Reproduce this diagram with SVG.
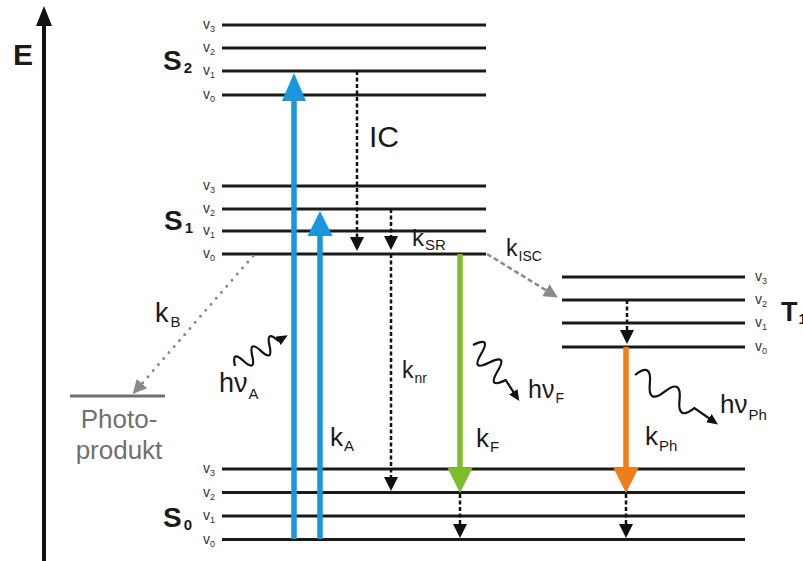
<svg xmlns="http://www.w3.org/2000/svg" width="803" height="561" viewBox="0 0 803 561">
<style>
.t{font-family:"Liberation Sans",Arial,sans-serif;fill:#1a1a1a}
.b{font-weight:bold}
.v{font-size:14px;fill:#333}
.lvl{stroke:#1a1a1a;stroke-width:3}
.dash{stroke:#111;stroke-width:2.5;stroke-dasharray:4 2.5;fill:none}
.gd{stroke:#8a8a8a;stroke-width:2.5;stroke-dasharray:5 3;fill:none}
.gdot{stroke:#8a8a8a;stroke-width:3;stroke-dasharray:0 8;stroke-linecap:round;fill:none}
.wave{stroke:#111;stroke-width:2.2;fill:none}
.blue{stroke:#1a96dc;stroke-width:5.5}
.green{stroke:#7cbd2a;stroke-width:5.5}
.orange{stroke:#f07d16;stroke-width:5.5}
.gray{fill:#707070}
</style>
<defs>
<marker id="hb" viewBox="0 0 14 14" refX="6" refY="7" markerWidth="14" markerHeight="14" markerUnits="userSpaceOnUse" orient="auto"><path d="M0,0 L14,7 L0,14 z" fill="#111"/></marker>
<marker id="hg" viewBox="0 0 14 14" refX="6" refY="7" markerWidth="14" markerHeight="14" markerUnits="userSpaceOnUse" orient="auto"><path d="M0,0 L14,7 L0,14 z" fill="#8a8a8a"/></marker>
<marker id="hw" viewBox="0 0 11 10" refX="5" refY="5" markerWidth="11" markerHeight="10" markerUnits="userSpaceOnUse" orient="auto"><path d="M0,0 L11,5 L0,10 z" fill="#111"/></marker>
</defs>
<rect width="803" height="561" fill="#fff"/>

<g id="axis">
<line x1="44" y1="561" x2="44" y2="22" stroke="#111" stroke-width="4"/>
<polygon points="36,26 52,26 44,6" fill="#111"/>
<text x="13" y="65" class="t b" font-size="30">E</text>
</g>

<g id="S2">
<line class="lvl" x1="222" y1="25" x2="486" y2="25"/>
<line class="lvl" x1="222" y1="48" x2="486" y2="48"/>
<line class="lvl" x1="222" y1="71" x2="486" y2="71"/>
<line class="lvl" x1="222" y1="95" x2="486" y2="95"/>
<text x="203" y="29" class="t v">v<tspan font-size="9" dy="3">3</tspan></text>
<text x="203" y="52" class="t v">v<tspan font-size="9" dy="3">2</tspan></text>
<text x="203" y="75" class="t v">v<tspan font-size="9" dy="3">1</tspan></text>
<text x="203" y="99" class="t v">v<tspan font-size="9" dy="3">0</tspan></text>
<text x="163" y="70" class="t b" font-size="28">S<tspan font-size="15" dx="2" dy="3">2</tspan></text>
</g>

<g id="S1">
<line class="lvl" x1="222" y1="186" x2="486" y2="186"/>
<line class="lvl" x1="222" y1="209" x2="486" y2="209"/>
<line class="lvl" x1="222" y1="231" x2="486" y2="231"/>
<line class="lvl" x1="222" y1="254" x2="486" y2="254"/>
<text x="203" y="190" class="t v">v<tspan font-size="9" dy="3">3</tspan></text>
<text x="203" y="213" class="t v">v<tspan font-size="9" dy="3">2</tspan></text>
<text x="203" y="235" class="t v">v<tspan font-size="9" dy="3">1</tspan></text>
<text x="203" y="258" class="t v">v<tspan font-size="9" dy="3">0</tspan></text>
<text x="164" y="230" class="t b" font-size="28">S<tspan font-size="15" dx="2" dy="3">1</tspan></text>
</g>

<g id="T1">
<line class="lvl" x1="562" y1="277" x2="745" y2="277"/>
<line class="lvl" x1="562" y1="300" x2="745" y2="300"/>
<line class="lvl" x1="562" y1="323" x2="745" y2="323"/>
<line class="lvl" x1="562" y1="347" x2="745" y2="347"/>
<text x="755" y="281" class="t v">v<tspan font-size="9" dy="3">3</tspan></text>
<text x="755" y="304" class="t v">v<tspan font-size="9" dy="3">2</tspan></text>
<text x="755" y="327" class="t v">v<tspan font-size="9" dy="3">1</tspan></text>
<text x="755" y="351" class="t v">v<tspan font-size="9" dy="3">0</tspan></text>
<text x="781" y="321" class="t b" font-size="27">T<tspan font-size="15" dx="1" dy="3">1</tspan></text>
</g>

<g id="S0">
<line class="lvl" x1="222" y1="469" x2="745" y2="469"/>
<line class="lvl" x1="222" y1="492.5" x2="745" y2="492.5"/>
<line class="lvl" x1="222" y1="516" x2="745" y2="516"/>
<line class="lvl" x1="222" y1="539.5" x2="745" y2="539.5"/>
<text x="203" y="473" class="t v">v<tspan font-size="9" dy="3">3</tspan></text>
<text x="203" y="497" class="t v">v<tspan font-size="9" dy="3">2</tspan></text>
<text x="203" y="520" class="t v">v<tspan font-size="9" dy="3">1</tspan></text>
<text x="203" y="544" class="t v">v<tspan font-size="9" dy="3">0</tspan></text>
<text x="163" y="527" class="t b" font-size="28">S<tspan font-size="15" dx="2" dy="3">0</tspan></text>
</g>

<g id="photoprodukt">
<line x1="70" y1="396" x2="165" y2="396" stroke="#707070" stroke-width="3"/>
<text x="119" y="428" class="t gray" font-size="26" text-anchor="middle" style="fill:#707070">Photo-</text>
<text x="119" y="459" class="t gray" font-size="26" text-anchor="middle" style="fill:#707070">produkt</text>
</g>

<g id="connectors">
<g id="absorption-S2">
<line class="blue" x1="294" y1="539" x2="294" y2="98"/>
<polygon points="282,101 306,101 294,73" fill="#1a96dc"/>
</g>
<g id="absorption-S1">
<line class="blue" x1="320" y1="539" x2="320" y2="233"/>
<polygon points="307.5,236 332.5,236 320,211" fill="#1a96dc"/>
</g>
<g id="fluorescence">
<line class="green" x1="460" y1="254" x2="460" y2="471"/>
<polygon points="447.5,468 472.5,468 460,493" fill="#7cbd2a"/>
</g>
<g id="phosphorescence">
<line class="orange" x1="626" y1="347" x2="626" y2="471"/>
<polygon points="613.5,468 638.5,468 626,493" fill="#f07d16"/>
</g>
<path id="ic" class="dash" d="M357,71 V243" marker-end="url(#hb)"/>
<path id="ksr" class="dash" d="M391,209 V242" marker-end="url(#hb)"/>
<path id="knr" class="dash" d="M391,254 V483" marker-end="url(#hb)"/>
<path id="relax-F" class="dash" d="M460,494 V530" marker-end="url(#hb)"/>
<path id="relax-Ph" class="dash" d="M626,494 V530" marker-end="url(#hb)"/>
<path id="relax-T" class="dash" d="M627,300 V336" marker-end="url(#hb)"/>
<path id="kisc" class="gd" d="M487,254 L551,293.3" marker-end="url(#hg)"/>
<path id="kb" class="gdot" d="M253,256 L138,388" marker-end="url(#hg)"/>
<path id="hvA" class="wave" d="M235,366 Q231.24,349.67 243.63,360.95 T252.26,355.9 T260.89,350.85 T269.52,345.8 T278.15,340.75 L282.5,338.2" marker-end="url(#hw)"/>
<path id="hvF" class="wave" d="M473,345 Q491.71,335.75 481.18,353.77 T489.36,362.54 T497.54,371.31 T505.72,380.08 L516,396" marker-end="url(#hw)"/>
<path id="hvPh" class="wave" d="M635,375 Q652.18,361.69 649.84,383.3 T664.68,391.6 T679.52,399.9 T694.36,408.2 L713,421" marker-end="url(#hw)"/>
</g>

<g id="labels">
<text x="369" y="147" class="t" font-size="30">IC</text>
<text x="412" y="246" class="t" font-size="24">k<tspan font-size="15" dx="1" dy="4">SR</tspan></text>
<text x="506" y="256" class="t" font-size="23">k<tspan font-size="14" dx="1" dy="5">ISC</tspan></text>
<text x="155" y="322" class="t" font-size="27">k<tspan font-size="15" dx="2" dy="5">B</tspan></text>
<text x="219" y="392" class="t" font-size="27">hν<tspan font-size="15" dx="1" dy="7">A</tspan></text>
<text x="402" y="378" class="t" font-size="23">k<tspan font-size="14" dx="1" dy="5">nr</tspan></text>
<text x="330" y="446" class="t" font-size="26">k<tspan font-size="15" dx="1" dy="5">A</tspan></text>
<text x="476" y="447" class="t" font-size="26">k<tspan font-size="15" dx="1" dy="5">F</tspan></text>
<text x="528" y="398" class="t" font-size="25">hν<tspan font-size="14" dx="1" dy="5">F</tspan></text>
<text x="645" y="445" class="t" font-size="26">k<tspan font-size="15" dx="1" dy="6">Ph</tspan></text>
<text x="720" y="413" class="t" font-size="26">hν<tspan font-size="15" dx="1" dy="7">Ph</tspan></text>
</g>
</svg>
